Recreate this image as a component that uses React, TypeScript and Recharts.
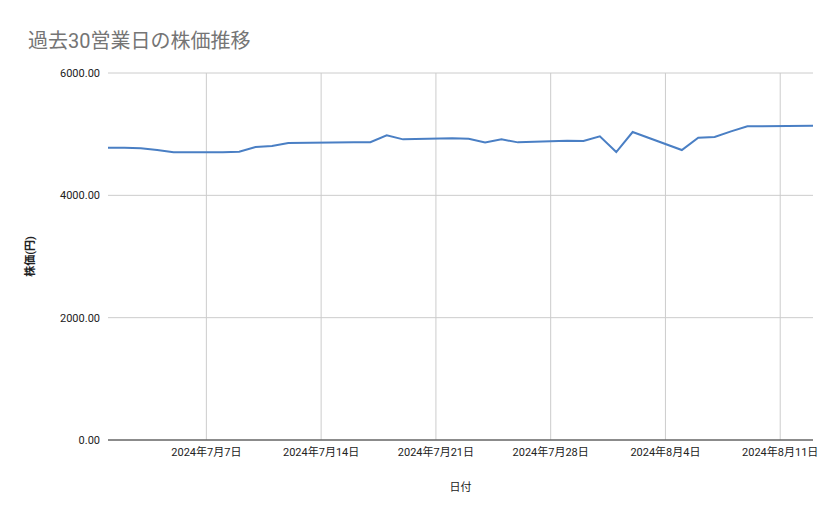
import { LineChart, Line, XAxis, YAxis, CartesianGrid } from 'recharts';

const dates = [
  '2024-07-01', '2024-07-02', '2024-07-03', '2024-07-04', '2024-07-05',
  '2024-07-08', '2024-07-09', '2024-07-10', '2024-07-11', '2024-07-12',
  '2024-07-16', '2024-07-17', '2024-07-18', '2024-07-19',
  '2024-07-22', '2024-07-23', '2024-07-24', '2024-07-25', '2024-07-26',
  '2024-07-29', '2024-07-30', '2024-07-31', '2024-08-01', '2024-08-02',
  '2024-08-05', '2024-08-06', '2024-08-07', '2024-08-08', '2024-08-09',
  '2024-08-13',
];

const prices = [
  4778, 4778, 4768, 4741, 4703,
  4703, 4714, 4790, 4806, 4856,
  4866, 4868, 4981, 4915,
  4932, 4926, 4866, 4915, 4866,
  4893, 4888, 4964, 4708, 5035,
  4741, 4943, 4954, 5046, 5128,
  5139,
];

const tickDates = ['2024-07-07', '2024-07-14', '2024-07-21', '2024-07-28', '2024-08-04', '2024-08-11'];
const yTicks = [0, 2000, 4000, 6000];

const START = Date.UTC(2024, 6, 1);
const DAY = 86400000;
const toDay = (s: string) => {
  const [y, m, d] = s.split('-').map(Number);
  return Math.round((Date.UTC(y, m - 1, d) - START) / DAY);
};
const fromDay = (n: number) => {
  const dt = new Date(START + n * DAY);
  return `${dt.getUTCFullYear()}年${dt.getUTCMonth() + 1}月${dt.getUTCDate()}日`;
};

const data = dates.map((d, i) => ({ day: toDay(d), price: prices[i] }));
const xTicks = tickDates.map(toDay);

const FONT = "Roboto, 'Noto Sans CJK JP', sans-serif";

export default function App() {
  return (
    <div style={{ position: 'absolute', left: 0, top: 0, width: 839, height: 519, background: '#fff', fontFamily: FONT }}>
      <div
        style={{
          position: 'absolute',
          left: 28,
          top: 25,
          fontSize: 20,
          color: '#757575',
          whiteSpace: 'nowrap',
        }}
      >
        過去30営業日の株価推移
      </div>
      <LineChart
        width={839}
        height={519}
        data={data}
        margin={{ top: 73, right: 26, bottom: 0, left: 0 }}
      >
        <CartesianGrid
          stroke="#cccccc"
          strokeWidth={1}
          vertical
          horizontal
          verticalValues={xTicks}
          horizontalValues={yTicks}
        />
        <XAxis
          dataKey="day"
          type="number"
          domain={[0, 43]}
          ticks={xTicks}
          tickFormatter={fromDay}
          height={79}
          tickLine={false}
          axisLine={{ stroke: '#333333', strokeWidth: 1 }}
          tick={{ fontSize: 11, fill: '#222222', fontFamily: FONT }}
          interval={0}
          label={{ value: '日付', position: 'insideBottom', offset: 28, fontSize: 11, fill: '#222222', fontFamily: FONT }}
        />
        <YAxis
          type="number"
          domain={[0, 6000]}
          ticks={yTicks}
          tickFormatter={(v: number) => v.toFixed(2)}
          width={108}
          tickLine={false}
          axisLine={false}
          tick={{ fontSize: 11, fill: '#222222', fontFamily: FONT }}
          label={{
            value: '株価(円)',
            angle: -90,
            position: 'insideLeft',
            offset: 30,
            fontSize: 11,
            fontWeight: 'bold',
            fill: '#222222',
            fontFamily: FONT,
            style: { textAnchor: 'middle' },
          }}
        />
        <Line
          type="linear"
          dataKey="price"
          stroke="#4a7fc4"
          strokeWidth={2}
          dot={false}
          activeDot={false}
          isAnimationActive={false}
        />
      </LineChart>
    </div>
  );
}
